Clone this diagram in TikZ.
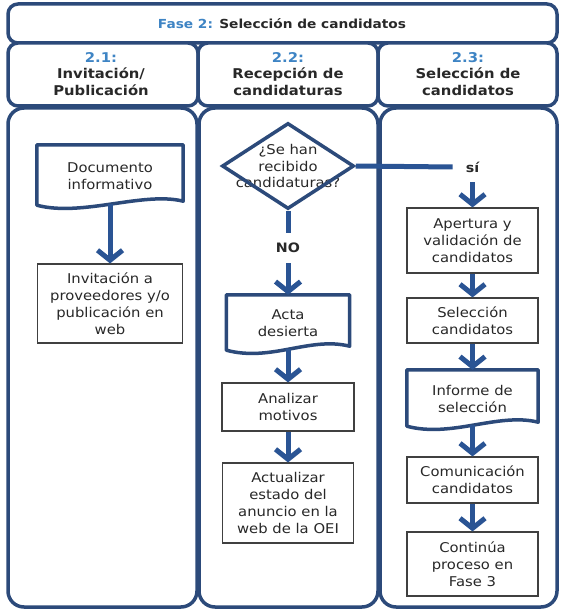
\documentclass[tikz,border=0pt]{standalone}
\usepackage{fontspec}
\setmainfont{DejaVu Sans}[FakeStretch=1.1]
\usepackage{tikz}
\usetikzlibrary{shapes.geometric,arrows.meta}

\definecolor{lanecol}{RGB}{44,74,122}
\definecolor{arrowcol}{RGB}{42,84,148}
\definecolor{fasecol}{RGB}{62,132,196}
\definecolor{txtcol}{RGB}{40,40,40}

% contorno de documento (borde inferior ondulado)
\newcommand\docpath[1]{%
  \draw[docline] ([shift={(0,-6)}]#1.south east) -- (#1.north east) -- (#1.north west)
    -- ([shift={(0,-2)}]#1.south west)
    .. controls ([shift={(45,10)}]#1.south west) and ([shift={(-40,-16)}]#1.south east) .. ([shift={(0,-6)}]#1.south east) -- cycle;}

\begin{document}
\begin{tikzpicture}[x=1bp,y=-1bp,
    frame/.style={draw=lanecol, line width=3.5bp, fill=white},
    hdrtext/.style={align=center, text=txtcol, font=\bfseries\fontsize{13.5}{16.5}\selectfont},
    task/.style={draw=black!75, line width=1.1bp, fill=white, align=center, text=txtcol,
                 font=\fontsize{13.5}{17}\selectfont, inner sep=0pt},
    docnode/.style={align=center, text=txtcol, font=\fontsize{13.5}{17}\selectfont, inner sep=0pt},
    docline/.style={draw=lanecol, line width=3.5bp, line join=round},
    dia/.style={diamond, draw=lanecol, line width=3.5bp, minimum width=132bp, minimum height=86bp, inner sep=0pt},
    answer/.style={font=\bfseries\fontsize{13}{15}\selectfont, text=txtcol, inner xsep=13bp, inner ysep=10bp},
    link/.style={draw=arrowcol, line width=5bp},
    flow/.style={draw=arrowcol, line width=5bp, -{Straight Barb[length=10bp,width=25bp]}}]
  \useasboundingbox (0,0) rectangle (563,613);

  % fase
  \draw[frame, rounded corners=10bp] (8,4) rectangle (557,43);
  \node[hdrtext, font=\bfseries\fontsize{12.5}{15}\selectfont] (fase) at (282,23.5)
    {{\color{fasecol}Fase 2:} Selección de candidatos};

  % cabeceras y carriles
  \foreach \xa/\xb in {8/198, 198/378, 378/557}
    \draw[frame, rounded corners=10bp] (\xa,43) rectangle (\xb,106);
  \foreach \xa/\xb in {8/197, 199/378, 380/557}
    \draw[frame, rounded corners=16bp] (\xa,108) rectangle (\xb,607);

  \node[hdrtext] (h1) at (101,74) {{\color{fasecol}2.1:}\\Invitación/\\Publicación};
  \node[hdrtext] (h2) at (288,74) {{\color{fasecol}2.2:}\\Recepción de\\candidaturas};
  \node[hdrtext] (h3) at (468,74) {{\color{fasecol}2.3:}\\Selección de\\candidatos};

  % 2.1
  \node[docnode, minimum width=146bp, minimum height=62bp] (docinf) at (110,176) {Documento\\informativo};
  \docpath{docinf}
  \node[task, minimum width=145bp, minimum height=79bp] (invit) at (110,303.5)
    {Invitación a\\proveedores y/o\\publicación en\\web};
  \draw[flow] ([shift={(0,-3)}]docinf.south) -- (invit.north);

  % 2.2
  \node[docnode] (qtext) at (288,166) {¿Se han\\recibido\\candidaturas?};
  \node[dia] (q) at (qtext) {};
  \node[answer] (no) at (288,248) {NO};
  \node[answer] (si) at (472.5,167) {sí};
  \node[docnode, minimum width=123bp, minimum height=57bp] (acta) at (288,323.5) {Acta\\desierta};
  \docpath{acta}
  \node[task, minimum width=132bp, minimum height=48bp] (analiz) at (288,407) {Analizar\\motivos};
  \node[task, minimum width=131bp, minimum height=80bp] (actual) at (288,503)
    {Actualizar\\estado del\\anuncio en la\\web de la OEI};

  \draw[link] (q.south) -- (no.north);
  \draw[flow] (no.south) -- (acta.north);
  \draw[flow] ([shift={(0,-3)}]acta.south) -- (analiz.north);
  \draw[flow] (analiz.south) -- (actual.north);

  % 2.3
  \node[task, minimum width=131bp, minimum height=65bp] (apert) at (472.5,240.5)
    {Apertura y\\validación de\\candidatos};
  \node[task, minimum width=131bp, minimum height=45bp] (selec) at (472.5,320.5) {Selección\\candidatos};
  \node[docnode, minimum width=131bp, minimum height=58bp] (inform) at (472.5,399) {Informe de\\selección};
  \docpath{inform}
  \node[task, minimum width=131bp, minimum height=46bp] (comun) at (472.5,480) {Comunicación\\candidatos};
  \node[task, minimum width=131bp, minimum height=64bp] (contin) at (472.5,564)
    {Continúa\\proceso en\\Fase 3};

  \draw[link] (q.east) -- (si.west);
  \draw[flow] (si.south) -- (apert.north);
  \draw[flow] (apert.south) -- (selec.north);
  \draw[flow] (selec.south) -- (inform.north);
  \draw[flow] ([shift={(0,-3)}]inform.south) -- (comun.north);
  \draw[flow] (comun.south) -- (contin.north);
\end{tikzpicture}
\end{document}
